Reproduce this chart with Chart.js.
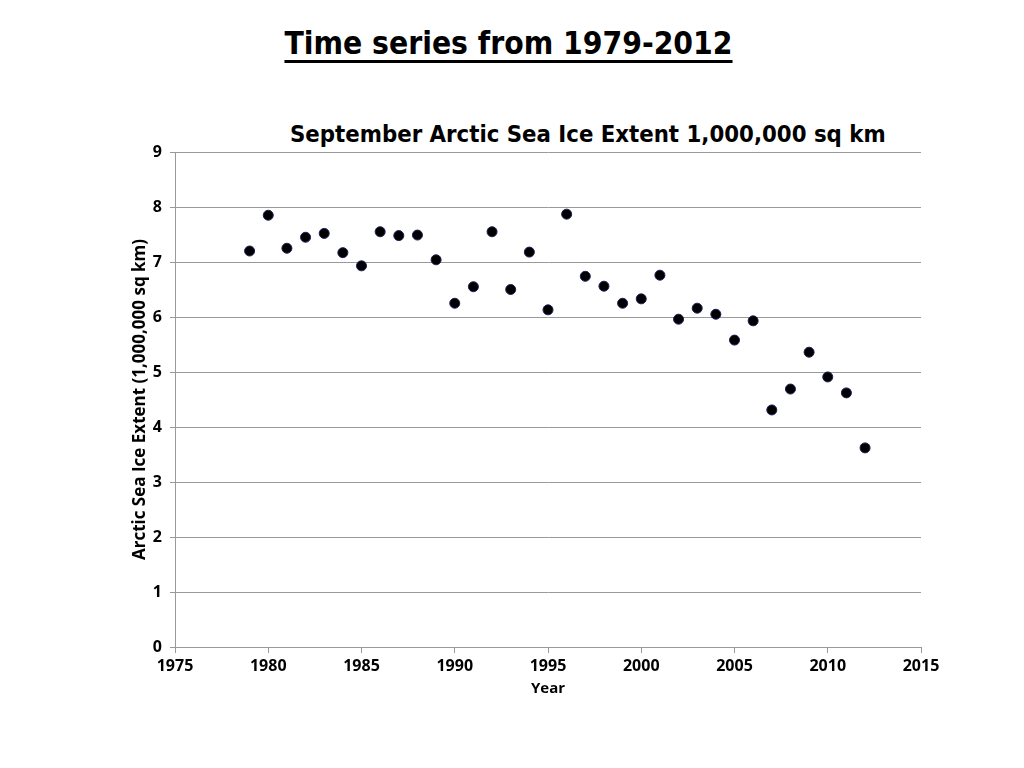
<!DOCTYPE html>
<html>
<head>
<meta charset="utf-8">
<script src="https://cdn.jsdelivr.net/npm/chart.js@4/dist/chart.umd.min.js"></script>
<style>
  html, body { margin: 0; padding: 0; background: #fff; }
  #wrap { position: relative; width: 1024px; height: 768px; overflow: hidden; }
  #main { position: absolute; left: 283px; width: 451px; top: 25px; text-align: center;
          font-family: "DejaVu Sans Condensed", "DejaVu Sans", sans-serif; font-weight: bold;
          font-size: 31.5px; color: #000; white-space: nowrap; }
  #main span { text-decoration: underline; text-decoration-thickness: 3px; text-underline-offset: 6px; }
  #sub { position: absolute; left: 290px; width: 594px; top: 120px; text-align: center;
         font-family: "DejaVu Sans Condensed", "DejaVu Sans", sans-serif; font-weight: bold;
         font-size: 23.7px; color: #000; white-space: nowrap; }
  canvas { position: absolute; left: 0; top: 0; }
</style>
</head>
<body>
<div id="wrap">
  <div id="main"><span>Time series from 1979-2012</span></div>
  <div id="sub">September Arctic Sea Ice Extent 1,000,000 sq km</div>
  <canvas id="c" width="1024" height="768"></canvas>
</div>
<script>
const years = [1979,1980,1981,1982,1983,1984,1985,1986,1987,1988,1989,1990,1991,1992,1993,1994,1995,1996,1997,1998,1999,2000,2001,2002,2003,2004,2005,2006,2007,2008,2009,2010,2011,2012];
const extent = [7.20,7.85,7.25,7.45,7.52,7.17,6.93,7.55,7.48,7.49,7.04,6.25,6.55,7.55,6.50,7.18,6.13,7.87,6.74,6.56,6.25,6.33,6.76,5.96,6.16,6.05,5.58,5.93,4.31,4.69,5.36,4.91,4.62,3.62];
const xTickValues = [1975,1980,1985,1990,1995,2000,2005,2010,2015];
const yTickValues = [0,1,2,3,4,5,6,7,8,9];

const points = years.map((y, i) => ({ x: y, y: extent[i] }));
const tickFont = { family: "'Open Sans', sans-serif", size: 16, weight: 'bold' };
const xTitleFont = { family: "'Open Sans', sans-serif", size: 15, weight: 'bold' };
const yTitleFont = { family: "'Open Sans', sans-serif", size: 17, weight: 'bold' };

new Chart(document.getElementById('c'), {
  type: 'scatter',
  data: {
    datasets: [{
      label: 'September Arctic Sea Ice Extent',
      data: points,
      backgroundColor: '#000',
      borderColor: '#1c1c5c',
      borderWidth: 1,
      pointRadius: 5,
      pointHoverRadius: 5
    }]
  },
  options: {
    responsive: false,
    animation: false,
    layout: { padding: { left: 126, right: 103, top: 152, bottom: 66 } },
    plugins: { legend: { display: false }, title: { display: false }, tooltip: { enabled: false } },
    scales: {
      x: {
        type: 'linear',
        min: 1975, max: 2015,
        afterBuildTicks: s => { s.ticks = xTickValues.map(v => ({ value: v })); },
        afterFit: s => { s.height = 55; },
        ticks: { color: '#000', font: tickFont, padding: 4, maxRotation: 0, callback: v => String(v) },
        grid: { drawOnChartArea: false, drawTicks: true, tickLength: 6, color: '#999' },
        border: { display: true, color: '#999', width: 1 },
        title: { display: true, text: 'Year', color: '#000', font: xTitleFont, padding: { top: 4, bottom: 4 } }
      },
      y: {
        min: 0, max: 9,
        afterBuildTicks: s => { s.ticks = yTickValues.map(v => ({ value: v })); },
        afterFit: s => { s.width = 49; },
        ticks: { color: '#000', font: tickFont, padding: 8, callback: v => String(v) },
        grid: { color: '#999', lineWidth: 1, drawTicks: true, tickLength: 5 },
        border: { display: true, color: '#999', width: 1 },
        title: { display: true, text: 'Arctic Sea Ice Extent (1,000,000 sq km)', color: '#000', font: yTitleFont, padding: { top: 4, bottom: 4 } }
      }
    }
  }
});
</script>
</body>
</html>
